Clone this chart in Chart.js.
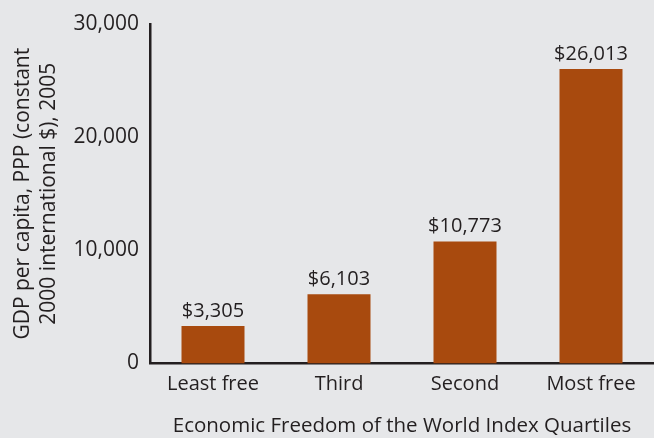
<!DOCTYPE html>
<html>
<head>
<meta charset="utf-8">
<script src="https://cdn.jsdelivr.net/npm/chart.js@4"></script>
<style>
    html, body { margin: 0; padding: 0; background: #e6e7e9; }
    #wrap { width: 654px; height: 438px; }
</style>
</head>
<body>
<div id="wrap"><canvas id="gdpChart"></canvas></div>
<script>
// Данные
const quartiles = ['Least free', 'Third', 'Second', 'Most free'];
const gdpValues = [3305, 6103, 10773, 26013];
const valueLabels = ['$3,305', '$6,103', '$10,773', '$26,013'];
const yTicks = [0, 10000, 20000, 30000];

const TEXT_COLOR = '#231f20';
const BAR_COLOR = '#a84a0e';
const FONT_FAMILY = '"Open Sans", "Noto Sans", sans-serif';

// Подписи значений над столбцами
const valueLabelPlugin = {
    id: 'valueLabels',
    afterDatasetsDraw(chart) {
        const ctx = chart.ctx;
        const meta = chart.getDatasetMeta(0);
        ctx.save();
        ctx.font = `20px ${FONT_FAMILY}`;
        ctx.fillStyle = TEXT_COLOR;
        ctx.textAlign = 'center';
        ctx.textBaseline = 'bottom';
        meta.data.forEach((bar, i) => {
            ctx.fillText(valueLabels[i], bar.x, bar.y - 5);
        });
        ctx.restore();
    },
};

new Chart(document.getElementById('gdpChart'), {
    type: 'bar',
    data: {
        labels: quartiles,
        datasets: [
            {
                data: gdpValues,
                backgroundColor: BAR_COLOR,
                borderWidth: 0,
                barPercentage: 0.5,
                categoryPercentage: 1,
            },
        ],
    },
    options: {
        responsive: true,
        maintainAspectRatio: false,
        animation: false,
        layout: {
            padding: {top: 24, right: 0, bottom: 0, left: 0},
        },
        plugins: {
            legend: {display: false},
            tooltip: {enabled: false},
        },
        scales: {
            x: {
                grid: {display: false, drawTicks: false},
                border: {display: true, color: TEXT_COLOR, width: 2.5},
                ticks: {
                    color: TEXT_COLOR,
                    font: {family: FONT_FAMILY, size: 20},
                    padding: 9,
                },
                title: {
                    display: true,
                    text: 'Economic Freedom of the World Index Quartiles',
                    color: TEXT_COLOR,
                    font: {family: FONT_FAMILY, size: 20.5},
                    padding: {top: 8, bottom: 0},
                },
            },
            y: {
                min: 0,
                max: 30000,
                afterFit(scale) {
                    scale.width = 150;
                },
                afterBuildTicks(scale) {
                    scale.ticks = yTicks.map((v) => ({value: v}));
                },
                grid: {display: false, drawTicks: false},
                border: {display: true, color: TEXT_COLOR, width: 2.5},
                ticks: {
                    color: TEXT_COLOR,
                    font: {family: FONT_FAMILY, size: 21},
                    padding: 11,
                    callback: (value) => value.toLocaleString('en-US'),
                },
                title: {
                    display: true,
                    text: ['GDP per capita, PPP (constant', '2000 international $), 2005'],
                    color: TEXT_COLOR,
                    font: {family: FONT_FAMILY, size: 21, lineHeight: 1.24},
                    padding: {top: 10, bottom: 0},
                },
            },
        },
    },
    plugins: [valueLabelPlugin],
});
</script>
</body>
</html>
